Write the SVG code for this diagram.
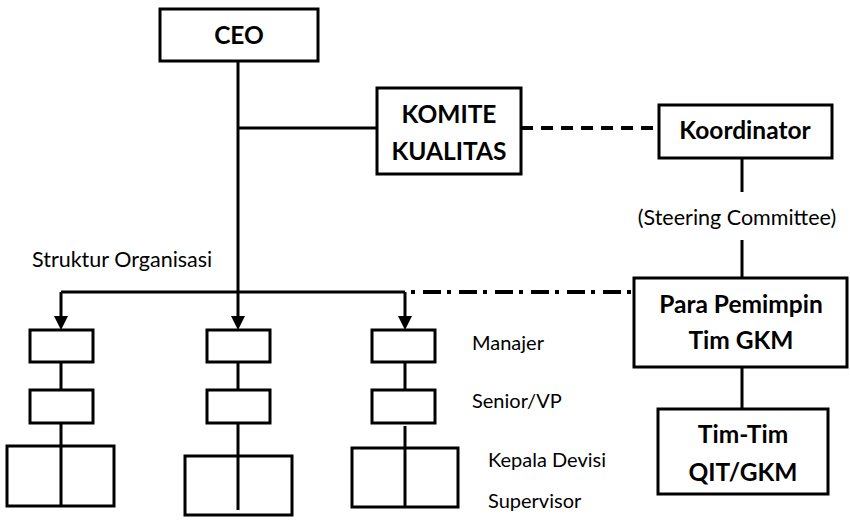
<svg xmlns="http://www.w3.org/2000/svg" width="850" height="523" viewBox="0 0 850 523">
  <style>
    .box { fill: #fff; stroke: #000; stroke-width: 3; }
    .ln { fill: none; stroke: #000; stroke-width: 3; }
    .dash { fill: none; stroke: #000; stroke-width: 4; stroke-dasharray: 12 8; }
    .dashdot { fill: none; stroke: #000; stroke-width: 4; stroke-dasharray: 4 8 18 6; }
    .b { font-family: Lato, "Liberation Sans", sans-serif; font-weight: bold; font-size: 24.5px; text-anchor: middle; fill: #000; }
    .r { font-family: Lato, "Liberation Sans", sans-serif; font-size: 21.5px; fill: #000; }
    .lvl { font-family: Lato, "Liberation Sans", sans-serif; font-size: 20px; fill: #000; }
  </style>

  <!-- connectors -->
  <g id="connectors">
    <!-- CEO trunk down to the division bus -->
    <path class="ln" d="M238,61 V292"/>
    <path class="ln" d="M238,128 H377"/>
    <!-- division bus with arrows into each column -->
    <path class="ln" d="M61,292 H405"/>
    <line class="ln" x1="61" y1="292" x2="61" y2="316"/>
    <line class="ln" x1="238" y1="292" x2="238" y2="316"/>
    <line class="ln" x1="405" y1="292" x2="405" y2="316"/>
    <path d="M54,316 L68,316 L61,330 Z"/>
    <path d="M231,316 L245,316 L238,330 Z"/>
    <path d="M398,316 L412,316 L405,330 Z"/>
    <!-- quality committee to coordinator -->
    <line class="dash" x1="521" y1="128" x2="659" y2="128"/>
    <!-- coordinator to team leaders -->
    <line class="ln" x1="742" y1="158" x2="742" y2="192"/>
    <line class="ln" x1="742" y1="240" x2="742" y2="278"/>
    <line class="ln" x1="742" y1="367" x2="742" y2="409"/>
    <!-- team leaders to line structure -->
    <line class="dashdot" x1="411" y1="292" x2="633" y2="292"/>
    <!-- column links -->
    <line class="ln" x1="61" y1="362" x2="61" y2="390"/>
    <line class="ln" x1="61" y1="423" x2="61" y2="446"/>
    <line class="ln" x1="238" y1="362" x2="238" y2="390"/>
    <line class="ln" x1="238" y1="423" x2="238" y2="456"/>
    <line class="ln" x1="405" y1="362" x2="405" y2="390"/>
    <line class="ln" x1="405" y1="426" x2="405" y2="448"/>
  </g>

  <g id="ceo">
    <rect class="box" x="160" y="9" width="158" height="52"/>
    <text class="b" x="239" y="44">CEO</text>
  </g>

  <g id="komite-kualitas">
    <rect class="box" x="377" y="88" width="144" height="86"/>
    <text class="b" x="449" y="123">KOMITE</text>
    <text class="b" x="449" y="160">KUALITAS</text>
  </g>

  <g id="koordinator">
    <rect class="box" x="659" y="105" width="173" height="53"/>
    <text class="b" x="745" y="139">Koordinator</text>
  </g>

  <text class="r" x="737" y="225" text-anchor="middle">(Steering Committee)</text>

  <g id="para-pemimpin">
    <rect class="box" x="634" y="278" width="213" height="89"/>
    <text class="b" x="741" y="313">Para Pemimpin</text>
    <text class="b" x="741" y="349">Tim GKM</text>
  </g>

  <g id="tim-tim">
    <rect class="box" x="658" y="409" width="170" height="85"/>
    <text class="b" x="743" y="443">Tim-Tim</text>
    <text class="b" x="743" y="481">QIT/GKM</text>
  </g>

  <text class="r" x="32" y="267">Struktur Organisasi</text>

  <g id="col-1">
    <rect class="box" x="30" y="330" width="63" height="32"/>
    <rect class="box" x="30" y="390" width="63" height="33"/>
    <rect class="box" x="7" y="446" width="107" height="60"/>
    <line class="ln" x1="61" y1="446" x2="61" y2="505"/>
  </g>

  <g id="col-2">
    <rect class="box" x="207" y="330" width="63" height="32"/>
    <rect class="box" x="207" y="390" width="63" height="33"/>
    <rect class="box" x="185" y="456" width="107" height="59"/>
    <line class="ln" x1="238" y1="456" x2="238" y2="510"/>
  </g>

  <g id="col-3">
    <rect class="box" x="372" y="330" width="63" height="32"/>
    <rect class="box" x="372" y="390" width="63" height="33"/>
    <rect class="box" x="352" y="448" width="106" height="59"/>
    <line class="ln" x1="405" y1="448" x2="405" y2="507"/>
  </g>

  <g id="levels">
    <text class="lvl" x="472" y="350">Manajer</text>
    <text class="lvl" x="472" y="408">Senior/VP</text>
    <text class="lvl" x="488" y="467">Kepala Devisi</text>
    <text class="lvl" x="488" y="508">Supervisor</text>
  </g>
</svg>
